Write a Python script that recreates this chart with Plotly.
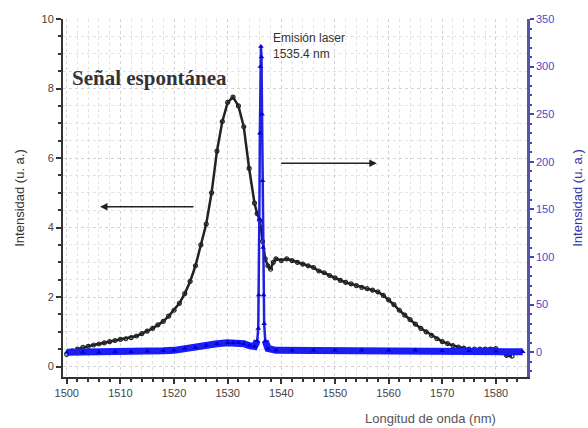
import plotly.graph_objects as go

# Spontaneous signal (left axis)
wl_spont = [1500, 1501, 1502, 1503, 1504, 1505, 1506, 1507, 1508, 1509, 1510, 1511, 1512, 1513, 1514,
            1515, 1516, 1517, 1518, 1519, 1520, 1521, 1522, 1523, 1524, 1525, 1526, 1527, 1528, 1529,
            1530, 1531, 1532, 1533, 1534, 1535, 1535.5, 1536, 1536.5, 1537, 1537.5, 1538, 1538.5, 1539,
            1540, 1541, 1542, 1543, 1544, 1545, 1546, 1547, 1548, 1549, 1550, 1551, 1552, 1553, 1554,
            1555, 1556, 1557, 1558, 1559, 1560, 1561, 1562, 1563, 1564, 1565, 1566, 1567, 1568, 1569,
            1570, 1571, 1572, 1573, 1574, 1575, 1576, 1577, 1578, 1579, 1580, 1581, 1582, 1583]
int_spont = [0.35, 0.45, 0.5, 0.55, 0.58, 0.62, 0.65, 0.68, 0.72, 0.75, 0.78, 0.8, 0.83, 0.88, 0.95,
             1.02, 1.1, 1.2, 1.3, 1.45, 1.62, 1.82, 2.1, 2.45, 2.9, 3.5, 4.1, 5.0, 6.2, 7.05,
             7.6, 7.75, 7.5, 6.9, 5.7, 4.7, 4.4, 4.2, 3.6, 3.1, 2.9, 2.8, 3.0, 3.1,
             3.05, 3.1, 3.05, 3.0, 2.95, 2.9, 2.85, 2.75, 2.7, 2.62, 2.55, 2.48, 2.42, 2.38, 2.33,
             2.28, 2.24, 2.2, 2.15, 2.05, 1.92, 1.78, 1.62, 1.48, 1.35, 1.22, 1.1, 1.0, 0.9, 0.8,
             0.72, 0.66, 0.6, 0.56, 0.53, 0.5, 0.5, 0.5, 0.5, 0.5, 0.52, 0.4, 0.32, 0.3]

# Laser emission (right axis)
wl_laser = [1500, 1503, 1506, 1509, 1512, 1515, 1518, 1520, 1522, 1524, 1526, 1528, 1530, 1531, 1532,
            1533, 1534, 1535, 1535.5, 1535.7, 1535.8, 1535.9, 1536.0, 1536.1, 1536.2, 1536.3, 1536.4,
            1536.5, 1536.6, 1536.7, 1536.8, 1537.0, 1537.5, 1539, 1542, 1546, 1550, 1555, 1560,
            1565, 1570, 1575, 1580, 1585]
int_laser = [0, 0, 0, 0.5, 0.5, 1, 1.5, 2, 4, 5, 7, 9, 10, 10, 10,
             9, 7, 6, 12, 25, 60, 140, 230, 300, 321, 310, 250,
             180, 110, 60, 30, 12, 4, 2, 2, 2, 2, 2, 2,
             2, 1.5, 1.5, 1, 0.5]

x_ticks = [1500, 1510, 1520, 1530, 1540, 1550, 1560, 1570, 1580]
y_left_ticks = [0, 2, 4, 6, 8, 10]
y_right_ticks = [0, 50, 100, 150, 200, 250, 300, 350]

# thick band for the laser baseline (spike drawn thin)
laser_base = [v if v < 15 else None for v in int_laser]

fig = go.Figure()

fig.add_trace(go.Scatter(
    x=wl_spont, y=int_spont, mode="lines+markers",
    line=dict(color="#222222", width=2.5),
    marker=dict(symbol="circle-open", size=4, color="#222222", line=dict(width=1.2)),
    yaxis="y", xaxis="x", showlegend=False))

fig.add_trace(go.Scatter(
    x=wl_laser, y=laser_base, mode="lines",
    line=dict(color="#1a1aff", width=7),
    yaxis="y2", xaxis="x", showlegend=False, connectgaps=False))

fig.add_trace(go.Scatter(
    x=wl_laser, y=int_laser, mode="lines+markers",
    line=dict(color="#2020e0", width=2.5),
    marker=dict(symbol="triangle-up", size=5, color="#0000dd"),
    yaxis="y2", xaxis="x", showlegend=False))

fig.update_layout(
    width=588, height=428,
    margin=dict(l=63, r=61, t=19, b=51, autoexpand=False),
    paper_bgcolor="white", plot_bgcolor="white",
    font=dict(family="Liberation Sans, Arial", size=11, color="#444444"),
    xaxis=dict(range=[1499.3, 1585.8], tickvals=x_ticks, ticks="outside", ticklen=5,
               tickwidth=1.5, tickcolor="#333", showline=True, linewidth=2, linecolor="#333",
               showgrid=True, gridcolor="#d4d4d4", griddash="dot", gridwidth=1,
               minor=dict(dtick=2, ticks="outside", ticklen=3, tickcolor="#333",
                          showgrid=True, gridcolor="#e2e2e2", griddash="dot"),
               zeroline=False, tickfont=dict(size=11, color="#444"), automargin=False),
    xaxis2=dict(range=[1499.3, 1585.8], overlaying="x", side="top", tickvals=x_ticks,
                showticklabels=False, ticks="inside", ticklen=5, tickwidth=1.5, tickcolor="#333",
                showline=True, linewidth=2, linecolor="#333", showgrid=False,
                minor=dict(dtick=2, ticks="inside", ticklen=3, tickcolor="#333"),
                zeroline=False, automargin=False),
    yaxis=dict(range=[-0.3, 10], tickvals=y_left_ticks, ticks="outside", ticklen=5,
               tickwidth=1.5, tickcolor="#333", showline=True, linewidth=2, linecolor="#333",
               showgrid=True, gridcolor="#d4d4d4", griddash="dot",
               minor=dict(dtick=0.5, ticks="outside", ticklen=3, tickcolor="#333",
                          showgrid=True, gridcolor="#e2e2e2", griddash="dot"),
               zeroline=False, tickfont=dict(size=11, color="#444"), automargin=False,
               title=dict(text="Intensidad (u. a.)", font=dict(size=13, color="#333"), standoff=14)),
    yaxis2=dict(range=[-26, 350], tickvals=y_right_ticks, overlaying="y", side="right",
                ticks="outside", ticklen=4, tickwidth=1.5, tickcolor="#4444aa",
                showline=True, linewidth=2.5, linecolor="#5555aa", showgrid=False,
                minor=dict(dtick=10, ticks="outside", ticklen=2, tickcolor="#4444aa"),
                zeroline=False, tickfont=dict(size=11, color="#4848cc"), automargin=False,
                title=dict(text="Intensidad (u. a.)", font=dict(size=13, color="#3333aa"), standoff=20)),
)

fig.add_annotation(x=(70 - 63) / 464, y=1 - (78 - 19) / 358, xref="paper", yref="paper",
                   text="<b>Señal espontánea</b>",
                   showarrow=False, xanchor="left", yanchor="middle",
                   font=dict(family="Liberation Serif, DejaVu Serif", size=21, color="#333"))
fig.add_annotation(text="Emisión laser<br>1535.4 nm", x=1538.0, y=9.7, xref="x", yref="y",
                   showarrow=False, xanchor="left", yanchor="top", align="left",
                   font=dict(family="Liberation Sans, Arial", size=12, color="#333"))
fig.add_annotation(x=1506.2, y=4.6, ax=1523.9, ay=4.6, xref="x", yref="y", axref="x", ayref="y",
                   showarrow=True, arrowhead=2, arrowsize=1, arrowwidth=1.5, arrowcolor="#222", text="")
fig.add_annotation(x=1557.8, y=5.85, ax=1539.7, ay=5.85, xref="x", yref="y", axref="x", ayref="y",
                   showarrow=True, arrowhead=2, arrowsize=1, arrowwidth=1.5, arrowcolor="#222", text="")
fig.add_annotation(text="Longitud de onda (nm)", x=(430 - 63) / 464, y=-0.115, xref="paper", yref="paper",
                   showarrow=False, xanchor="center", yanchor="middle",
                   font=dict(family="Liberation Sans, Arial", size=13, color="#555"))

fig.write_html("out.html", config={"displayModeBar": False})
